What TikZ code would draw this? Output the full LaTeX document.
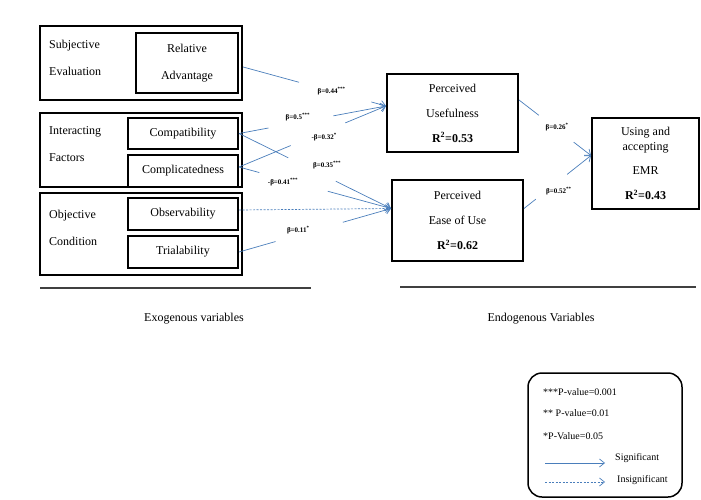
\documentclass[tikz,border=0pt]{standalone}
\usepackage{fontspec}
\setmainfont{Liberation Serif}
\usetikzlibrary{arrows.meta, positioning}
\definecolor{linkblue}{RGB}{74,126,187}
\tikzstyle{group} = [rectangle, draw, line width=2.2pt, minimum width=202pt, inner sep=0pt]
\tikzstyle{grouptext} = [anchor=west, align=left, inner sep=0pt, font=\fontsize{12}{27}\selectfont]
\tikzstyle{block} = [rectangle, draw, line width=2pt, minimum width=110pt, minimum height=32pt, font=\fontsize{12}{14}\selectfont]
\tikzstyle{construct} = [rectangle, draw, line width=2pt, align=center, font=\fontsize{12}{25}\selectfont]
\tikzstyle{line} = [draw, linkblue, line width=0.7pt, -{Straight Barb[length=5pt,width=8pt]}]
\tikzstyle{weight} = [text=black, font=\fontsize{7}{8}\selectfont\bfseries, inner sep=0pt]
\tikzstyle{note} = [anchor=west, inner sep=0pt, font=\fontsize{10}{12}\selectfont]
\tikzset{gap/.style 2 args={dash pattern=on #1 off #2 on 600pt}}

\begin{document}
\begin{tikzpicture}[x=1pt, y=-1pt]
        \useasboundingbox (0,0) rectangle (701,500);

        % Exogenous constructs
        \node [group, minimum height=74pt] (se) at (141,63) {};
        \node [grouptext] at (49,57.5) {Subjective\\Evaluation};
        \node [block, minimum width=102pt, minimum height=60pt, align=center, font=\fontsize{12}{27}\selectfont] (ra) at (187,63) {Relative\\Advantage};

        \node [group, minimum height=74pt] (inf) at (141,150) {};
        \node [grouptext] at (49,144.5) {Interacting\\Factors};
        \node [block, minimum height=31pt] (cmpt) at (183,133.5) {Compatibility};
        \node [block] (cmpl) at (183,171) {Complicatedness};

        \node [group, minimum height=82pt] (oc) at (141,234) {};
        \node [grouptext] at (49,228) {Objective\\Condition};
        \node [block] (obs) at (183,214) {Observability};
        \node [block] (trial) at (183,252) {Trialability};

        % Endogenous constructs
        \node [construct, minimum width=131pt, minimum height=78pt] (pu) at (452.5,113) {Perceived\\Usefulness\\\textbf{R\textsuperscript{2}=0.53}};
        \node [construct, minimum width=131pt, minimum height=81pt] (peu) at (457.5,220.5) {Perceived\\Ease of Use\\\textbf{R\textsuperscript{2}=0.62}};
        \node [construct, minimum width=107pt, minimum height=91pt, font=\fontsize{12}{15}\selectfont] (emr) at (645.5,163.5) {Using and\\accepting\\[9pt]EMR\\[10pt]\textbf{R\textsuperscript{2}=0.43}};

        \coordinate (puin) at ([yshift=7pt]pu.west);
        \coordinate (peuin) at ([yshift=12pt]peu.west);
        \coordinate (emrin) at ([yshift=8pt]emr.west);

        % Paths
        \path [line, gap={58pt}{75pt}] ([yshift=-4pt]se.east) -- node[weight, pos=0.62] {β=0.44\textsuperscript{***}} (puin);
        \path [line, gap={30pt}{66pt}] (cmpt.east) -- node[weight, pos=0.40, yshift=5pt] {β=0.5\textsuperscript{***}} (puin);
        \path [line, gap={56pt}{59pt}] ([yshift=4pt]cmpl.east) -- node[weight, pos=0.58, yshift=-5pt] {-β=0.32\textsuperscript{*}} (puin);
        \path [line, gap={55pt}{53pt}] (cmpt.east) -- node[weight, pos=0.58, yshift=12pt] {β=0.35\textsuperscript{***}} (peuin);
        \path [line, gap={21pt}{71pt}] ([yshift=4pt]cmpl.east) -- node[weight, pos=0.29, yshift=-3pt] {-β=0.41\textsuperscript{***}} (peuin);
        \path [line, dash pattern=on 2pt off 1.5pt] ([yshift=4pt]obs.east) -- (peuin);
        \path [line, gap={38pt}{70pt}] (trial.east) -- node[weight, pos=0.39, yshift=5pt] {β=0.11\textsuperscript{*}} (peuin);
        \path [line, gap={25pt}{44pt}] ([yshift=13pt]pu.east) -- node[weight, pos=0.53, yshift=2pt] {β=0.26\textsuperscript{*}} (emrin);
        \path [line, gap={15pt}{40pt}] ([yshift=12pt]peu.east) -- node[weight, pos=0.52, yshift=-10pt] {β=0.52\textsuperscript{**}} (emrin);

        % Captions
        \draw [line width=1.2pt, black!75] (40,288) -- (311,288);
        \draw [line width=1.2pt, black!75] (400,287) -- (696,287);
        \node [font=\fontsize{12}{14}\selectfont] (exo) at (194,319) {Exogenous variables};
        \node [font=\fontsize{12}{14}\selectfont] (endo) at (541,319) {Endogenous Variables};

        % Legend
        \node [draw, line width=1.5pt, rounded corners=14pt, minimum width=154pt, minimum height=124pt] (legend) at (605,435) {};
        \node [note] at (543,392) {***P-value=0.001};
        \node [note] at (543,413) {** P-value=0.01};
        \node [note] at (543,436) {*P-Value=0.05};
        \coordinate (sigstart) at (545,463);
        \coordinate (sigend) at (605,463);
        \coordinate (insstart) at (545,482);
        \coordinate (insend) at (605,482);
        \path [line] (sigstart) -- (sigend);
        \path [line, dash pattern=on 2pt off 1.5pt] (insstart) -- (insend);
        \node [note, right=10pt of sigend, yshift=5pt] {Significant};
        \node [note, right=12pt of insend, yshift=2pt] {Insignificant};
    \end{tikzpicture}
\end{document}
